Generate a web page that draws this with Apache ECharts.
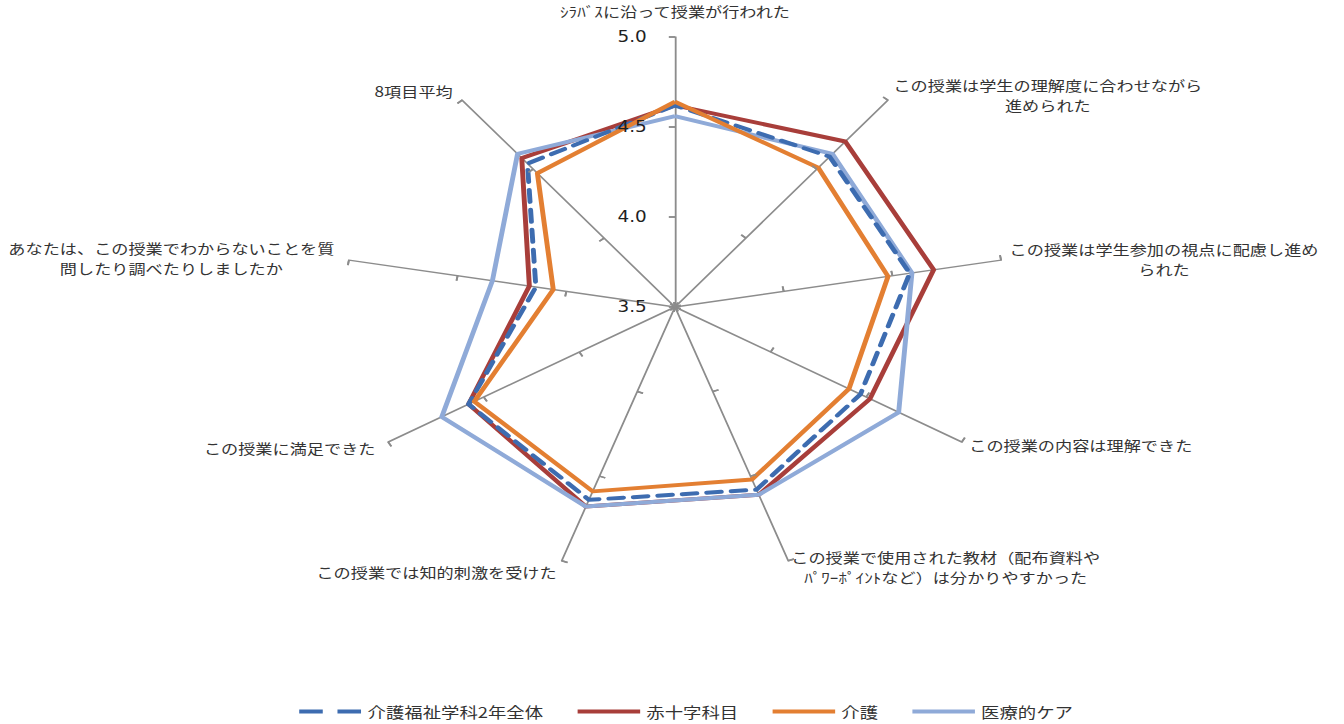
<!DOCTYPE html>
<html><head><meta charset="utf-8">
<script src="https://cdn.jsdelivr.net/npm/echarts@6/dist/echarts.min.js"></script>
<style>
html,body{margin:0;padding:0;background:#fff;overflow:hidden;width:1344px;height:724px;}
#c{width:1096px;height:724px;transform:scaleX(1.2263);transform-origin:0 0;}
</style></head><body><div id="c"></div>
<script>
// categories in clockwise order starting from the top axis
const categories = [
  'ｼﾗﾊﾞｽに沿って授業が行われた',
  'この授業は学生の理解度に合わせながら\n進められた',
  'この授業は学生参加の視点に配慮し進め\nられた',
  'この授業の内容は理解できた',
  'この授業で使用された教材（配布資料や\nﾊﾟﾜｰﾎﾟｲﾝﾄなど）は分かりやすかった',
  'この授業では知的刺激を受けた',
  'この授業に満足できた',
  'あなたは、この授業でわからないことを質\n問したり調べたりしましたか',
  '8項目平均'
];
const seriesNames = ['介護福祉学科2年全体', '赤十字科目', '介護', '医療的ケア'];
const allDept = [4.62, 4.59, 4.58, 4.47, 4.58, 4.64, 4.58, 4.14, 4.54];
const redCross = [4.62, 4.70, 4.69, 4.52, 4.61, 4.68, 4.58, 4.17, 4.58];
const kaigo   = [4.64, 4.51, 4.48, 4.41, 4.52, 4.59, 4.55, 4.06, 4.47];
const iryo    = [4.56, 4.61, 4.59, 4.67, 4.61, 4.68, 4.72, 4.34, 4.61];
const axisMin = 3.5, axisMax = 5.0, axisSplits = 3;

const colors = {
  '介護福祉学科2年全体': '#3D6CB0',
  '赤十字科目': '#A83E3A',
  '介護': '#E37F32',
  '医療的ケア': '#8FAAD8'
};
// ECharts radar runs counter-clockwise; reorder so that the picture runs clockwise
const order = [0, 8, 7, 6, 5, 4, 3, 2, 1];
const reorder = arr => order.map(i => arr[i]);
const gapFor = i => (i === 0 ? 16 : (i >= 1 && i <= 4 ? 7 : 12));

const indicators = order.map(i => ({ name: categories[i], min: axisMin, max: axisMax, nameGap: gapFor(i) }));
const indicators2 = order.map((i, k) => ({
  name: categories[i], min: axisMin, max: axisMax,
  axisLabel: { show: k === 0 }
}));

const fontJP = '"Noto Sans CJK JP", "Noto Sans", sans-serif';
const center = [675 / 1.2263, 307];
const radius = 270;
const axisGray = '#8c8c8c';

const chart = echarts.init(document.getElementById('c'), null, { renderer: 'svg' });
const valuesByName = {
  '介護福祉学科2年全体': allDept,
  '赤十字科目': redCross,
  '介護': kaigo,
  '医療的ケア': iryo
};
const drawOrder = ['赤十字科目', '医療的ケア', '介護福祉学科2年全体', '介護'];

chart.setOption({
  animation: false,
  legend: {
    left: 239,
    top: 699,
    itemWidth: 51,
    itemHeight: 4,
    itemGap: 28,
    textStyle: { fontSize: 15, fontFamily: fontJP, color: '#333' },
    data: [
      { name: seriesNames[0], icon: 'path://M0,0H24V5H0Z M39,0H63V5H39Z' },
      { name: seriesNames[1], icon: 'rect' },
      { name: seriesNames[2], icon: 'rect' },
      { name: seriesNames[3], icon: 'rect' }
    ]
  },
  radar: [
    {
      z: 0,
      center: center,
      radius: radius,
      startAngle: 90,
      splitNumber: axisSplits,
      shape: 'polygon',
      indicator: indicators,
      axisNameGap: 12,
      axisName: {
        color: '#333',
        fontSize: 14,
        fontFamily: fontJP,
        formatter: name => name.split('\n').map(l => '{c|' + l + '}').join('\n'),
        rich: { c: { align: 'center', fontSize: 14, fontFamily: fontJP, color: '#333', lineHeight: 20 } }
      },
      axisLine: { show: true, lineStyle: { color: axisGray, width: 1.5 } },
      axisTick: { show: true, length: 5, lineStyle: { color: axisGray, width: 1.5 } },
      axisLabel: { show: false },
      splitLine: { show: false },
      splitArea: { show: false }
    },
    {
      zlevel: 1,
      z: 10,
      center: center,
      radius: radius,
      startAngle: 90,
      splitNumber: axisSplits,
      shape: 'polygon',
      indicator: indicators2,
      axisName: { show: false },
      axisLine: { show: false },
      axisTick: { show: true, inside: true, length: 5, lineStyle: { color: axisGray, width: 1.5 } },
      axisLabel: {
        show: true,
        margin: 23,
        fontSize: 15,
        fontFamily: '"DejaVu Sans", sans-serif',
        color: '#1f1f1f',
        formatter: v => Number(v).toFixed(1)
      },
      splitLine: { show: false },
      splitArea: { show: false }
    }
  ],
  series: drawOrder.map(name => ({
    type: 'radar',
    radarIndex: 0,
    name: name,
    symbol: 'none',
    z: 2,
    color: colors[name],
    itemStyle: { color: colors[name] },
    lineStyle: name === '介護福祉学科2年全体'
      ? { color: colors[name], width: 4, type: [12, 8], cap: 'round' }
      : { color: colors[name], width: 4 },
    data: [{ name: name, value: reorder(valuesByName[name]) }]
  }))
});
</script>
</body></html>
